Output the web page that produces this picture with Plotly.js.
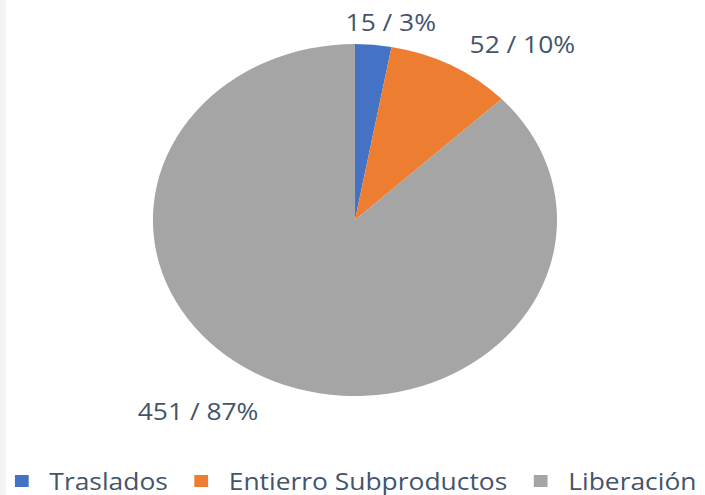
<!DOCTYPE html>
<html>
<head>
<meta charset="utf-8">
<script src="https://cdn.plot.ly/plotly-3.0.1.min.js"></script>
<style>
  html, body { margin: 0; padding: 0; background: #ffffff; overflow: hidden; width: 705px; height: 495px; }
  #chart { width: 900px; height: 495px; transform: translateX(-5.74px) scaleX(1.148); transform-origin: 0 0; }
</style>
</head>
<body>
<div id="chart"></div>
<script>
// Data
const categories = ["Traslados", "Entierro Subproductos", "Liberación"];
const values = [15, 52, 451];
const colors = ["#4472C4", "#ED7D31", "#A5A5A5"];

const total = values.reduce((a, b) => a + b, 0);
const labelTexts = values.map(v => v + " / " + Math.round(v / total * 100) + "%");

const W = 900, H = 495;
const OX = 5; // horizontal offset (unscaled px) compensating the CSS shift
const textColor = "#44546A";
const fontFam = "'Open Sans', sans-serif";

// label anchor positions (px, unscaled)
const labelPos = [[340, 22], [455, 44], [172, 411]];

const trace = {
  type: "pie",
  labels: categories,
  values: values,
  sort: false,
  direction: "clockwise",
  rotation: 0,
  textinfo: "none",
  hoverinfo: "label+value+percent",
  marker: { colors: colors, line: { width: 0 } },
  domain: { x: [(133.2 + OX) / W, (485.2 + OX) / W], y: [1 - 396 / H, 1 - 44 / H] }
};

const annotations = labelTexts.map((t, i) => ({
  text: t,
  xref: "paper", yref: "paper",
  x: (labelPos[i][0] + OX) / W, y: 1 - labelPos[i][1] / H,
  xanchor: "center", yanchor: "middle",
  showarrow: false,
  font: { family: fontFam, size: 23, color: textColor }
}));

const layout = {
  width: W, height: H,
  margin: { l: 0, r: 0, t: 0, b: 0, autoexpand: false },
  paper_bgcolor: "#ffffff",
  plot_bgcolor: "#ffffff",
  showlegend: true,
  legend: {
    orientation: "h",
    x: 0, xanchor: "left",
    y: 1 - 481 / H, yanchor: "middle",
    itemwidth: 38,
    font: { family: fontFam, size: 23, color: textColor },
    bgcolor: "rgba(0,0,0,0)"
  },
  annotations: annotations,
  shapes: [{
    type: "rect", xref: "paper", yref: "paper",
    x0: 0, x1: (5 + OX) / W, y0: 0, y1: 1,
    fillcolor: "#F3F3F3", line: { width: 0 }, layer: "below"
  }]
};

Plotly.newPlot("chart", [trace], layout, { displayModeBar: false, staticPlot: true });
</script>
</body>
</html>
